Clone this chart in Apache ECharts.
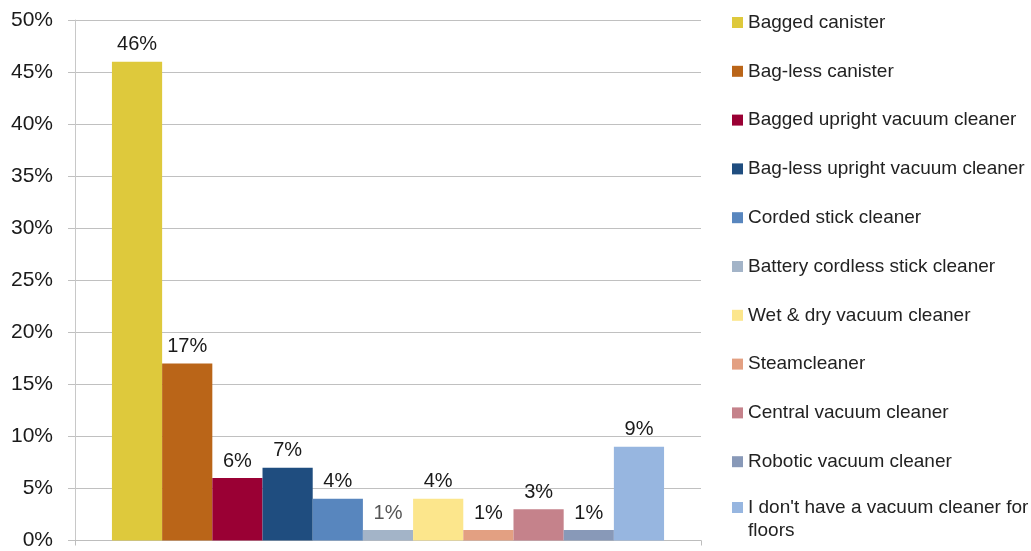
<!DOCTYPE html>
<html>
<head>
<meta charset="utf-8">
<script src="https://cdn.jsdelivr.net/npm/echarts@6/dist/echarts.min.js"></script>
<style>
  html, body { margin: 0; padding: 0; background: #fff; }
  #chart { width: 1031px; height: 551px; }
</style>
</head>
<body>
<div id="chart"></div>
<script>
// Vacuum cleaner types owned (share of respondents, %)
const seriesNames = [
  'Bagged canister',
  'Bag-less canister',
  'Bagged upright vacuum cleaner',
  'Bag-less upright vacuum cleaner',
  'Corded stick cleaner',
  'Battery cordless stick cleaner',
  'Wet & dry vacuum cleaner',
  'Steamcleaner',
  'Central vacuum cleaner',
  'Robotic vacuum cleaner',
  "I don't have a vacuum cleaner for floors"
];
const shares = [46, 17, 6, 7, 4, 1, 4, 1, 3, 1, 9];
const colors = [
  '#DEC93C', '#BA6518', '#9A0034', '#1F4D7F', '#5886BE', '#A3B4C8',
  '#FCE68C', '#E3A082', '#C5828B', '#8899B8', '#97B6E0'
];
const labelColors = [
  '#1a1a1a', '#1a1a1a', '#1a1a1a', '#1a1a1a', '#1a1a1a', '#555555',
  '#1a1a1a', '#1a1a1a', '#1a1a1a', '#1a1a1a', '#1a1a1a'
];
const categories = [''];

const FONT = '"Liberation Sans", Arial, sans-serif';

const series = seriesNames.map((name, i) => ({
  name: name,
  type: 'bar',
  data: [shares[i]],
  barGap: 0,
  barCategoryGap: '11.8%',
  itemStyle: { color: colors[i] },
  label: {
    show: true,
    position: 'top',
    distance: 7,
    formatter: '{c}%',
    fontFamily: FONT,
    fontSize: 20,
    color: labelColors[i]
  }
}));

const legendText = { fontFamily: FONT, fontSize: 19, color: '#222', lineHeight: 20 };

const option = {
  animation: false,
  backgroundColor: '#fff',
  grid: { left: 75, right: 330, top: 20, bottom: 10, containLabel: false },
  xAxis: {
    type: 'category',
    data: categories,
    axisLine: { lineStyle: { color: '#bdbdbd', width: 1 } },
    axisTick: { show: true, length: 5, lineStyle: { color: '#bdbdbd' } },
    axisLabel: { show: false }
  },
  yAxis: {
    type: 'value',
    min: 0,
    max: 50,
    interval: 5,
    axisLine: { show: true, lineStyle: { color: '#c8c8c8', width: 1 } },
    axisTick: { show: true, length: 7, lineStyle: { color: '#c0c0c0' } },
    splitLine: { show: true, lineStyle: { color: '#c0c0c0', width: 1 } },
    axisLabel: {
      formatter: '{value}%',
      margin: 22,
      fontFamily: FONT,
      fontSize: 21,
      color: '#1a1a1a'
    }
  },
  legend: [
    {
      orient: 'vertical',
      left: 732,
      top: 12.5,
      padding: 0,
      itemWidth: 11,
      itemHeight: 11,
      itemGap: 28.8,
      icon: 'rect',
      selectedMode: false,
      data: seriesNames.slice(0, 10),
      textStyle: legendText
    },
    {
      // the wrapped last entry: an empty leading line keeps the marker beside the first text line
      orient: 'vertical',
      left: 732,
      top: 473,
      padding: 0,
      itemWidth: 11,
      itemHeight: 11,
      icon: 'rect',
      selectedMode: false,
      data: seriesNames.slice(10),
      formatter: () => " \nI don't have a vacuum cleaner for\nfloors",
      textStyle: Object.assign({}, legendText, { lineHeight: 23 })
    }
  ],
  series: series
};

const chart = echarts.init(document.getElementById('chart'), null, { renderer: 'canvas' });
chart.setOption(option);
</script>
</body>
</html>
